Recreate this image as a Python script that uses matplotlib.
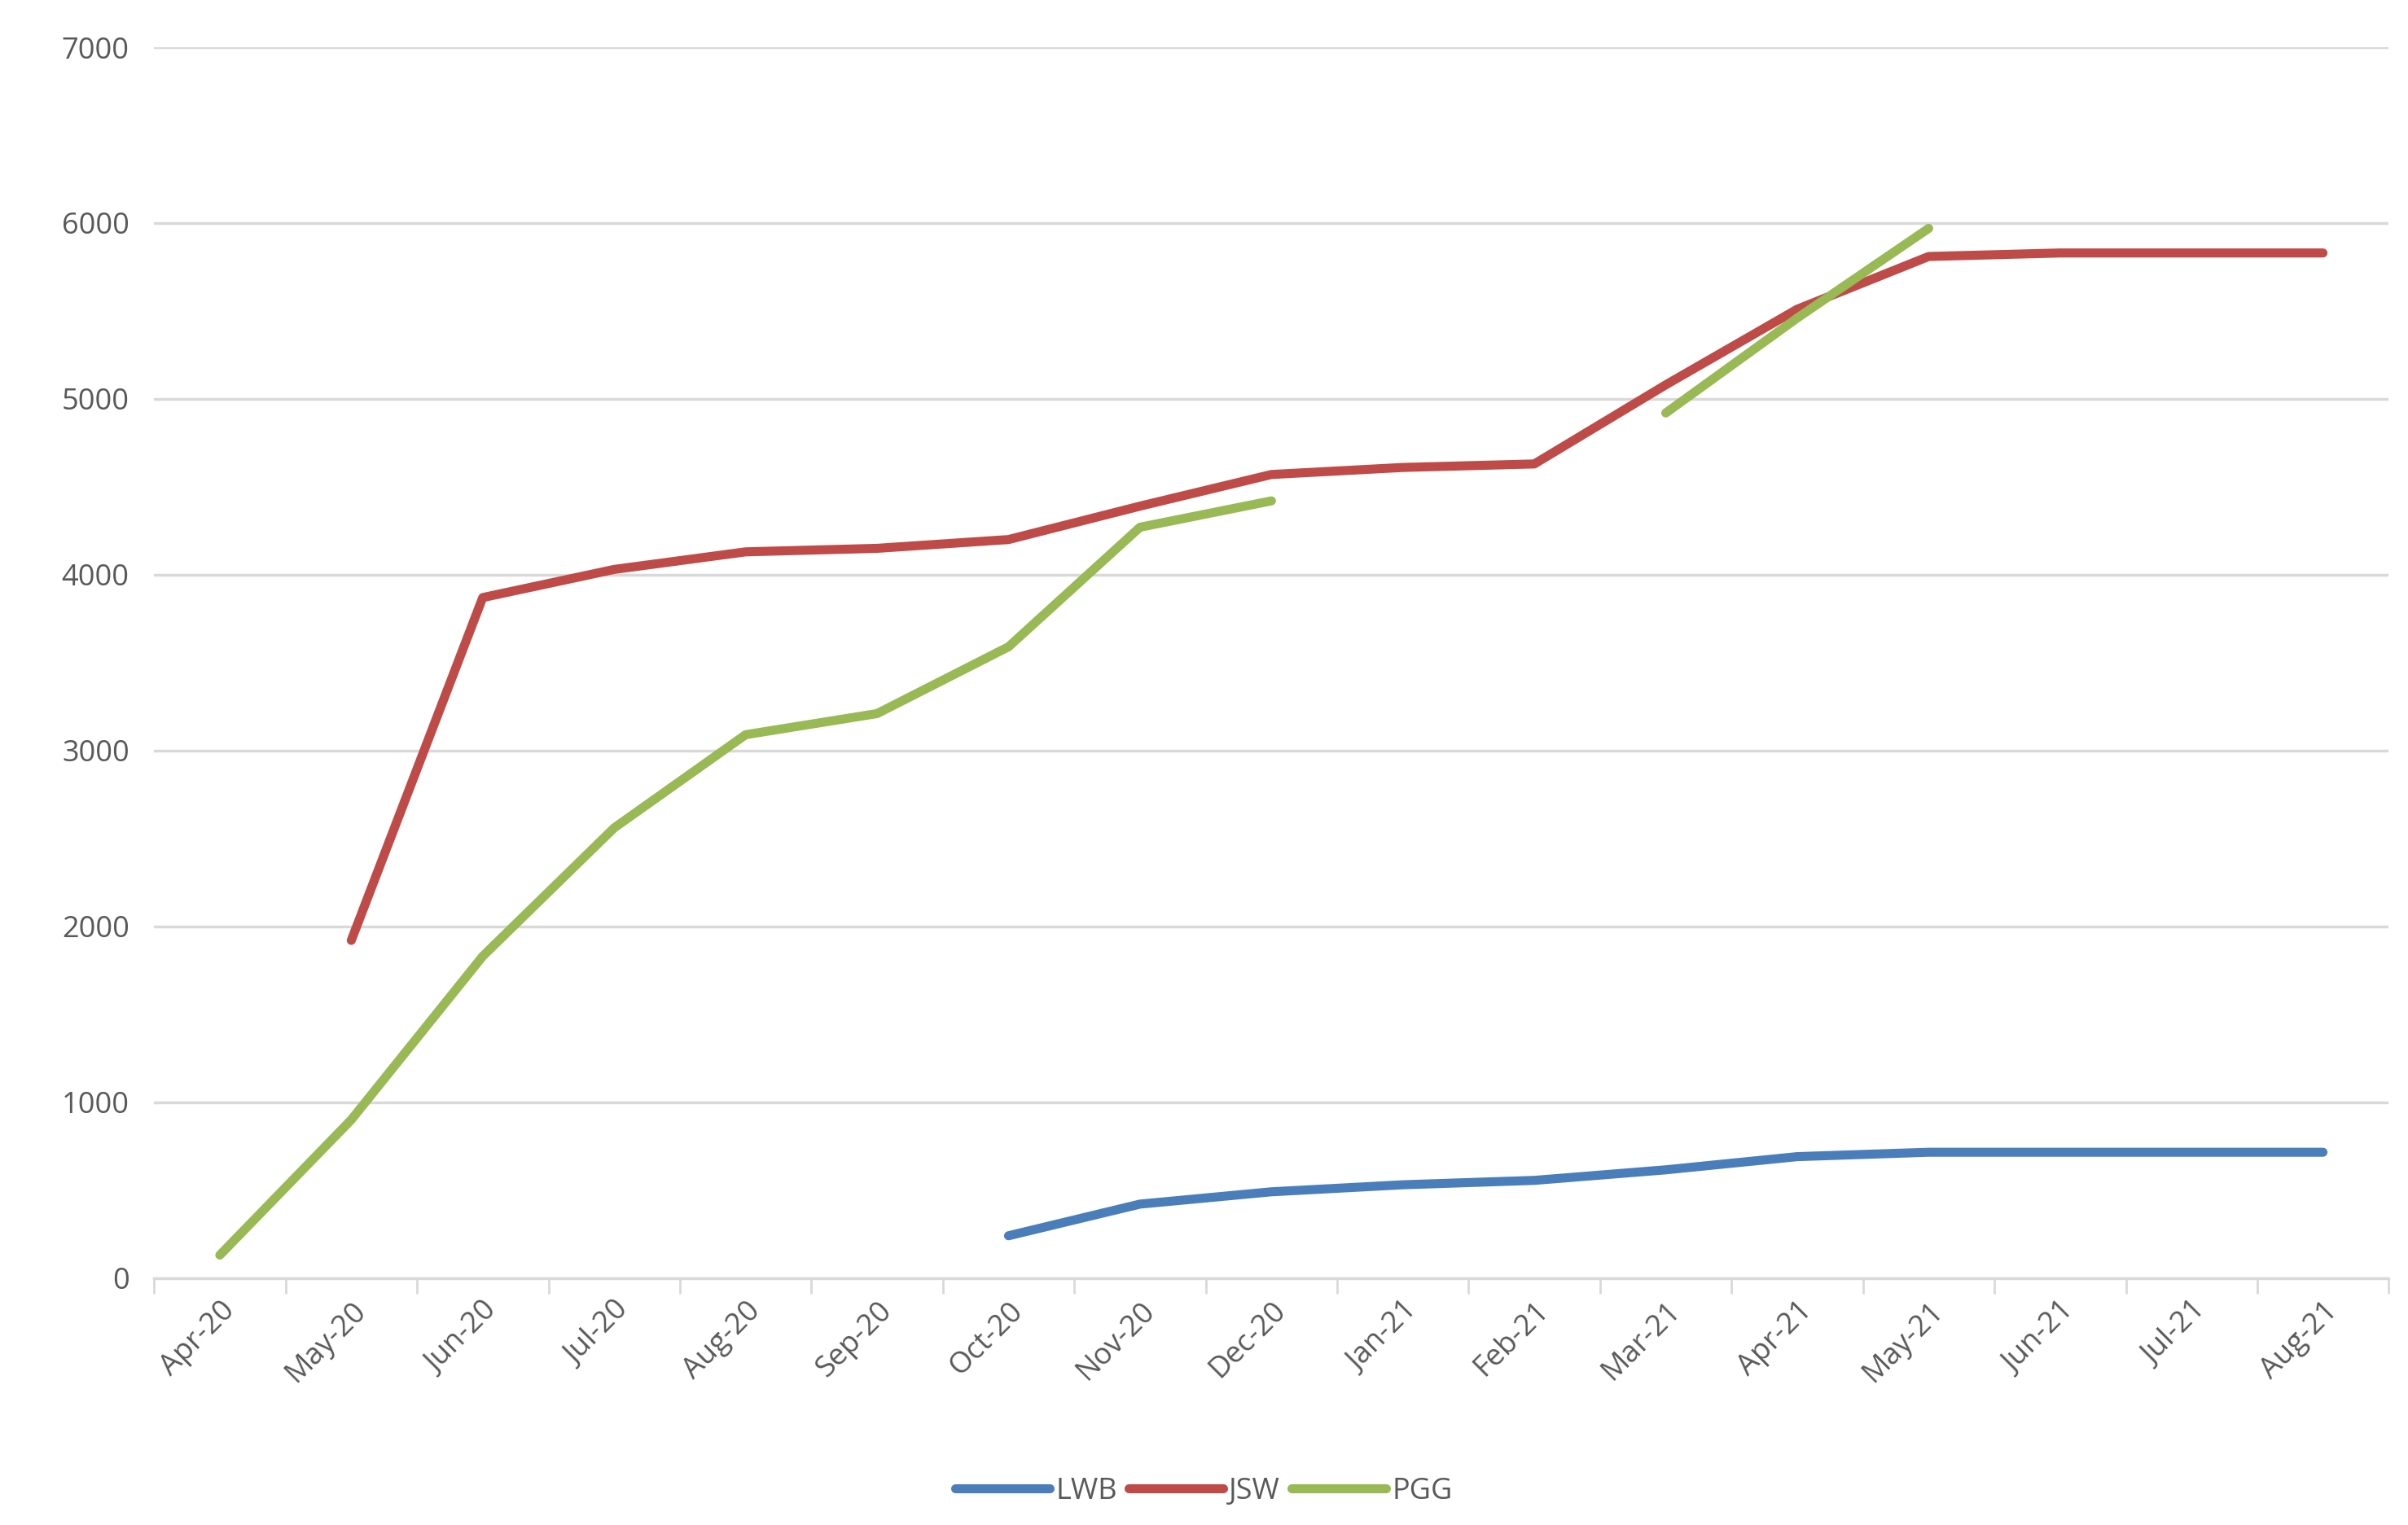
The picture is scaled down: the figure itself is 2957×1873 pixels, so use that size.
import numpy as np
import matplotlib as mpl
mpl.use('Agg')
import matplotlib.pyplot as plt

plt.rcParams['font.family'] = ['Open Sans', 'DejaVu Sans']

months = ['Apr-20', 'May-20', 'Jun-20', 'Jul-20', 'Aug-20', 'Sep-20', 'Oct-20', 'Nov-20',
          'Dec-20', 'Jan-21', 'Feb-21', 'Mar-21', 'Apr-21', 'May-21', 'Jun-21', 'Jul-21', 'Aug-21']
nan = np.nan
lwb = [nan, nan, nan, nan, nan, nan, 240, 420, 490, 530, 555, 615, 690, 715, 715, 715, 715]
jsw = [nan, 1920, 3870, 4030, 4130, 4150, 4200, 4390, 4570, 4610, 4630, 5080, 5510, 5810, 5830, 5830, 5830]
pgg = [130, 900, 1830, 2560, 3090, 3210, 3590, 4270, 4420, nan, nan, 4920, 5460, 5970, nan, nan, nan]

fig = plt.figure(figsize=(29.57, 18.73), dpi=100)
ax = fig.add_axes([0.064, 0.162, 0.928, 0.807])
x = np.arange(len(months))
ax.plot(x, lwb, color='#4a7ebb', lw=8, label='LWB', solid_capstyle='round')
ax.plot(x, jsw, color='#be4b48', lw=8, label='JSW', solid_capstyle='round')
ax.plot(x, pgg, color='#98b954', lw=8, label='PGG', solid_capstyle='round')

ax.set_xlim(-0.5, len(months) - 0.5)
ax.set_ylim(0, 7000)
ax.set_yticks(range(0, 7001, 1000))
ax.set_xticks(x)
ax.set_xticklabels(months, rotation=45, ha='right', rotation_mode='anchor')
ax.set_xticks(np.arange(-0.5, len(months)), minor=True)
ax.tick_params(axis='x', which='major', length=0, pad=16, labelsize=26, colors='#595959')
ax.tick_params(axis='x', which='minor', length=14, color='#d9d9d9', width=2)
ax.tick_params(axis='y', length=0, pad=22, labelsize=26, colors='#595959')
ax.grid(axis='y', color='#d9d9d9', lw=2.5)
ax.set_axisbelow(True)
for s in ['top', 'right', 'left']:
    ax.spines[s].set_visible(False)
ax.spines['bottom'].set_color('#d9d9d9')
ax.spines['bottom'].set_linewidth(2.5)

fig.legend(loc='center', bbox_to_anchor=(0.5, 0.022), ncol=3, frameon=False,
           fontsize=26, handlelength=3.2, columnspacing=0.4, handletextpad=0.2,
           labelcolor='#595959')
fig.savefig('out.png')
